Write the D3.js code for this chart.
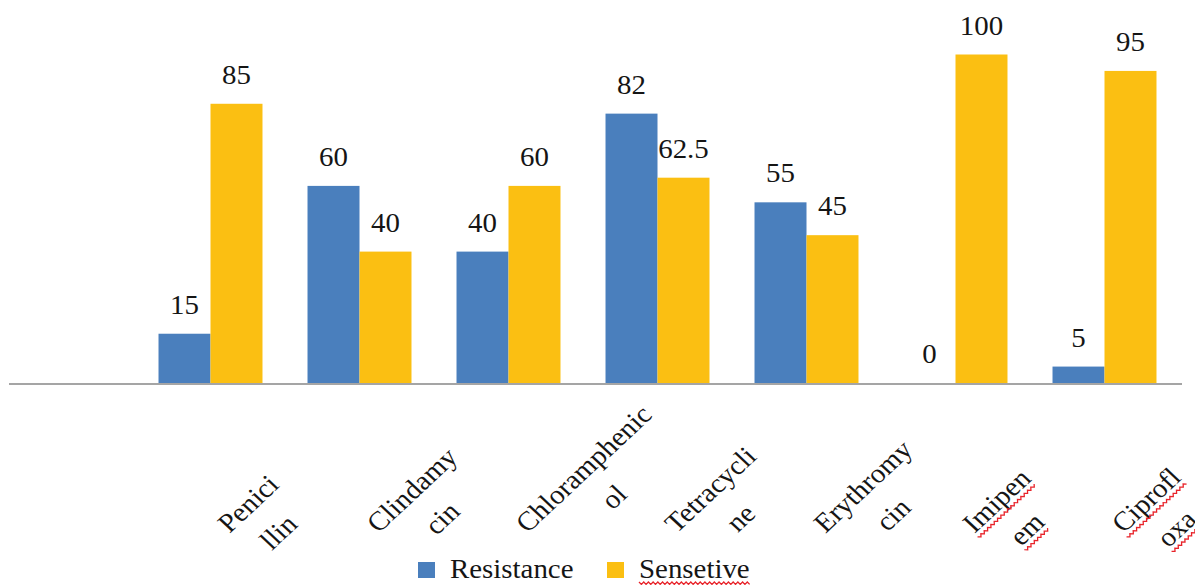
<!DOCTYPE html>
<html>
<head>
<meta charset="utf-8">
<script src="https://cdn.jsdelivr.net/npm/d3@7"></script>
<style>
  body { margin: 0; background: #fff; }
  svg { display: block; }
</style>
</head>
<body>
<svg id="chart" width="1195" height="585"></svg>
<script>
// ---- data ----
const categories = ["Penicillin", "Clindamycin", "Chloramphenicol", "Tetracycline", "Erythromycin", "Imipenem", "Ciprofloxa"];
const categoryLines = [["Penici", "llin"], ["Clindamy", "cin"], ["Chloramphenic", "ol"], ["Tetracycli", "ne"], ["Erythromy", "cin"], ["Imipen", "em"], ["Ciprofl", "oxa"]];
const seriesNames = ["Resistance", "Sensetive"];
const resistance = [15, 60, 40, 82, 55, 0, 5];
const sensetive = [85, 40, 60, 62.5, 45, 100, 95];
const seriesColors = ["#4A7FBD", "#FBBF12"];
// words marked by the spell checker (red wavy underline)
const flaggedWords = ["Imipenem", "Ciprofloxa", "Sensetive"];

// ---- layout ----
const FONT = 27;
const FAMILY = "'Liberation Serif', 'Times New Roman', Tinos, 'DejaVu Serif', serif";
const STRETCH = 1.07;          // text is drawn slightly wide
const svg = d3.select("#chart")
  .attr("font-family", FAMILY)
  .style("font-family", FAMILY);

const x = d3.scaleBand().domain(categories).range([136, 1179]).padding(0);
const inner = d3.scaleBand().domain(seriesNames).range([0, x.bandwidth()])
  .paddingInner(0).paddingOuter(0.433);
const y = d3.scaleLinear().domain([0, 100]).range([383, 54.5]);

const series = seriesNames.map((name, i) => ({
  name, color: seriesColors[i],
  values: (i === 0 ? resistance : sensetive).map((v, j) => ({ cat: categories[j], v }))
}));

// wavy underline path of given length
function squiggle(len) {
  const pts = [];
  for (let t = 0, k = 0; t <= len; t += 2.2, k++) pts.push([t, k % 2 ? 2.4 : 0]);
  return d3.line()(pts);
}

function addText(sel) {
  return sel.append("text")
    .attr("font-family", FAMILY)
    .style("font-family", FAMILY)
    .attr("font-size", FONT)
    .attr("fill", "#151515");
}

// ---- bars ----
const gBars = svg.append("g");
series.forEach(s => {
  gBars.selectAll(null).data(s.values).join("rect")
    .attr("x", d => x(d.cat) + inner(s.name))
    .attr("width", inner.bandwidth())
    .attr("y", d => y(d.v))
    .attr("height", d => y(0) - y(d.v))
    .attr("fill", s.color);
});

// ---- category axis line ----
svg.append("line")
  .attr("x1", 9).attr("x2", 1182)
  .attr("y1", y(0) + 1).attr("y2", y(0) + 1)
  .attr("stroke", "#A5A5A5").attr("stroke-width", 2);

// ---- value labels ----
series.forEach(s => {
  s.values.forEach(d => {
    const g = svg.append("g")
      .attr("transform", `translate(${x(d.cat) + inner(s.name) + inner.bandwidth() / 2},${y(d.v) - 20}) scale(${STRETCH},1)`);
    addText(g).attr("text-anchor", "middle").text(d.v);
  });
});

// ---- rotated category labels ----
const LINE_GAP = 40;
categories.forEach((cat, j) => {
  const lines = categoryLines[j];
  const g = svg.append("g")
    .attr("transform", `translate(${x(cat) + x.bandwidth() / 2 + 19},534) scale(${STRETCH},1) rotate(-45)`);
  const t1 = addText(g).attr("text-anchor", "start").text(lines[0]);
  const w1 = t1.node().getComputedTextLength();
  const t2 = addText(g).attr("text-anchor", "middle")
    .attr("x", w1 / 2).attr("y", LINE_GAP).text(lines[1]);
  if (flaggedWords.includes(cat)) {
    const w2 = t2.node().getComputedTextLength();
    g.append("path").attr("d", squiggle(w1)).attr("transform", "translate(0,4)")
      .attr("fill", "none").attr("stroke", "#E8232A").attr("stroke-width", 1.2);
    g.append("path").attr("d", squiggle(w2)).attr("transform", `translate(${w1 / 2 - w2 / 2},${LINE_GAP + 4})`)
      .attr("fill", "none").attr("stroke", "#E8232A").attr("stroke-width", 1.2);
  }
});

// ---- legend ----
const legendItems = [{ x: 418 }, { x: 607 }];
series.forEach((s, i) => {
  const g = svg.append("g").attr("transform", `translate(${legendItems[i].x},562)`);
  g.append("rect").attr("width", 17).attr("height", 16).attr("fill", s.color);
  const tg = g.append("g").attr("transform", `translate(32,16) scale(${STRETCH},1)`);
  const t = addText(tg).text(s.name);
  if (flaggedWords.includes(s.name)) {
    const w = t.node().getComputedTextLength();
    tg.append("path").attr("d", squiggle(w)).attr("transform", "translate(0,4)")
      .attr("fill", "none").attr("stroke", "#E8232A").attr("stroke-width", 1.2);
  }
});
</script>
</body>
</html>
